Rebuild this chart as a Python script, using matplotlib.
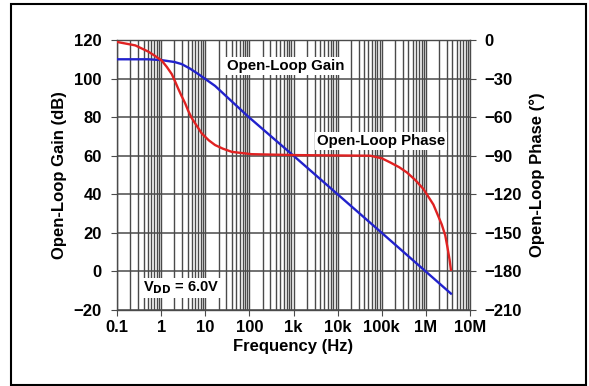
import matplotlib
matplotlib.use("Agg")
import matplotlib.pyplot as plt
import numpy as np
from matplotlib.ticker import LogLocator, FixedLocator, NullFormatter
from matplotlib.patches import Rectangle

# ---- data ----
freq_gain = [0.1, 0.3, 0.5, 1, 2, 2.93, 4.5, 7, 10, 16.7, 30, 95, 1e3, 1e4, 1e5, 8.84e5, 3.7e6]
gain_db = [110, 110, 110, 109.6, 108.6, 107.5, 105.2, 102.3, 99.8, 96.2, 90.8, 80.2,
           60, 40, 20, 1, -11.5]

freq_phase = [0.1, 0.26, 0.51, 0.7, 1.03, 1.35, 1.74, 2.0, 2.45, 2.9, 3.48, 4.1, 4.94,
              6.5, 8.3, 12, 16.7, 25, 40, 112, 1e3, 1e4, 5.46e4, 1.0e5, 1.55e5, 2.5e5,
              3.71e5, 5.8e5, 8.84e5, 1.48e6, 2.29e6, 2.75e6, 3.1e6, 3.45e6, 3.69e6]
phase_deg = [-1.5, -4.2, -9, -12, -16, -21, -26.5, -31, -38, -43.5, -49, -55, -60.7,
             -67, -72.6, -78, -81.7, -84.5, -87, -88.8, -89.5, -89.8, -90, -92, -95.2, -99,
             -103, -109, -116, -128, -143.5, -152, -161.7, -171, -178.7]

x_ticks = [0.1, 1, 10, 100, 1e3, 1e4, 1e5, 1e6, 1e7]
x_labels = ["0.1", "1", "10", "100", "1k", "10k", "100k", "1M", "10M"]
gain_ticks = [-20, 0, 20, 40, 60, 80, 100, 120]
phase_ticks = [-210, -180, -150, -120, -90, -60, -30, 0]

plt.rcParams['font.family'] = ['Liberation Sans', 'DejaVu Sans']
plt.rcParams['font.weight'] = 'bold'

W, H = 589, 386
fig = plt.figure(figsize=(W / 100, H / 100), dpi=100)
ax = fig.add_axes([117 / W, 1 - 310 / H, (470 - 117) / W, (310 - 40) / H])

grid_c = "#4a4a4a"
ax.set_xscale("log")
ax.set_xlim(0.1, 1e7)
ax.set_ylim(-20, 120)
ax.xaxis.set_major_locator(FixedLocator(x_ticks))
ax.xaxis.set_minor_locator(LogLocator(base=10, subs=np.arange(2, 10), numticks=20))
ax.xaxis.set_minor_formatter(NullFormatter())
ax.set_xticklabels(x_labels)
ax.set_yticks(gain_ticks)
ax.grid(True, which="both", axis="x", color=grid_c, lw=1.0)
ax.grid(True, which="major", axis="y", color=grid_c, lw=1.1)
ax.set_axisbelow(True)
for s in ax.spines.values():
    s.set_color(grid_c)
    s.set_linewidth(1.0)
ax.tick_params(axis="y", which="major", direction="out", length=4, color=grid_c,
               labelsize=12, pad=7)
ax.tick_params(axis="x", which="major", direction="out", length=4, color=grid_c,
               labelsize=12, pad=3)
ax.tick_params(axis="x", which="minor", length=0)
for lab in ax.get_xticklabels() + ax.get_yticklabels():
    lab.set_fontweight("bold")

ax2 = ax.twinx()
ax2.set_ylim(-210, 0)
ax2.set_yticks(phase_ticks)
for s in ax2.spines.values():
    s.set_visible(False)
ax2.tick_params(axis="y", direction="out", length=4, color=grid_c, labelsize=12, pad=6)
for lab in ax2.get_yticklabels():
    lab.set_fontweight("bold")

ax.plot(freq_gain, gain_db, color="#2222cc", lw=1.7, zorder=5, solid_joinstyle="round")
ax2.plot(freq_phase, phase_deg, color="#e02222", lw=1.7, zorder=5, solid_joinstyle="round")

ax.set_xlabel("Frequency (Hz)", fontsize=12, fontweight="bold", labelpad=3)
ax.set_ylabel("Open-Loop Gain (dB)", fontsize=12, fontweight="bold", labelpad=5)
ax2.set_ylabel("Open-Loop Phase (°)", fontsize=12, fontweight="bold", labelpad=6)

box = dict(facecolor="white", edgecolor="none", pad=1.5)
fig.text(286 / W, 1 - 66 / H, "Open-Loop Gain", ha="center", va="center",
         fontsize=10.8, fontweight="bold", bbox=box, zorder=10)
fig.text(381 / W, 1 - 141 / H, "Open-Loop Phase", ha="center", va="center",
         fontsize=10.8, fontweight="bold", bbox=box, zorder=10)
fig.text(143 / W, 1 - 288 / H, r"V$_{\mathbf{DD}}$ = 6.0V", ha="left", va="center",
         fontsize=10.5, fontweight="bold", bbox=box, zorder=10)

fig.patches.append(Rectangle((11 / W, 1 - 385 / H), (586 - 11) / W, (385 - 4) / H,
                             transform=fig.transFigure, fill=False, edgecolor="black",
                             lw=1.5, zorder=0))

fig.savefig("out.png", dpi=100)
